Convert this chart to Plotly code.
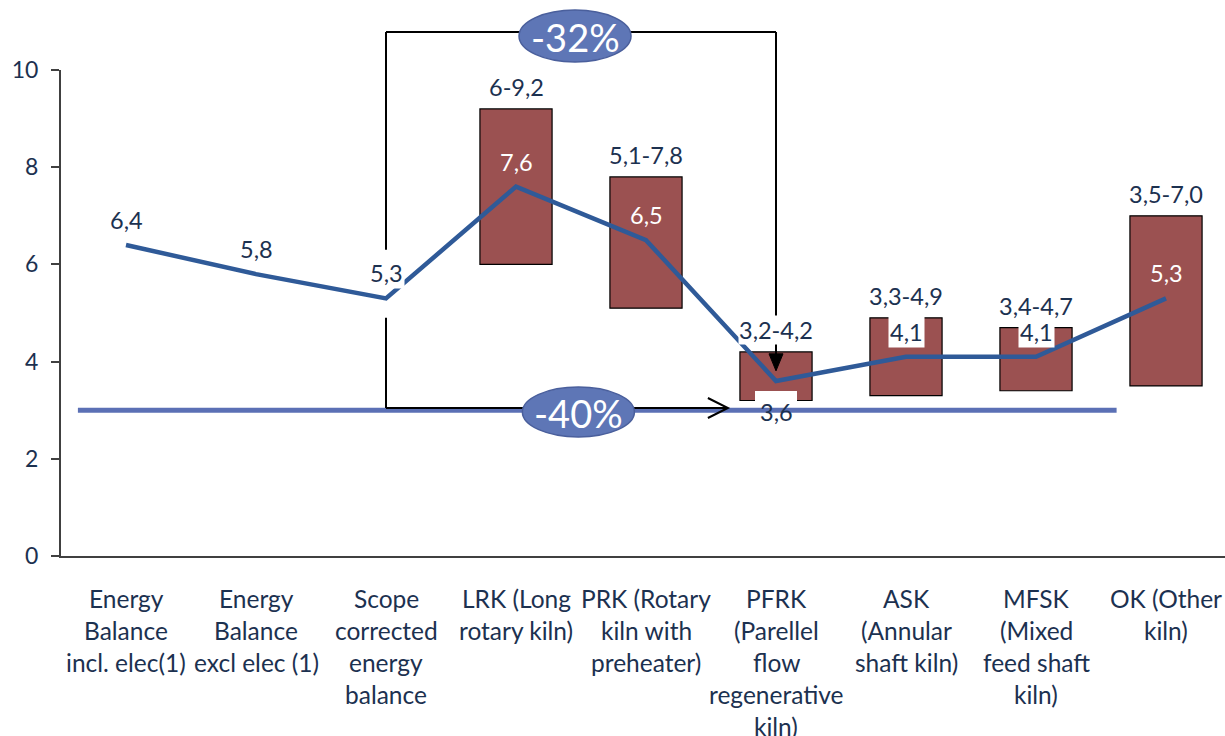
import plotly.graph_objects as go

# ---- data -------------------------------------------------------------
categories = [
    "Energy<br>Balance<br>incl. elec(1)",
    "Energy<br>Balance<br>excl elec (1)",
    "Scope<br>corrected<br>energy<br>balance",
    "LRK (Long<br>rotary kiln)",
    "PRK (Rotary<br>kiln with<br>preheater)",
    "PFRK<br>(Parellel<br>flow<br>regenerative<br>kiln)",
    "ASK<br>(Annular<br>shaft kiln)",
    "MFSK<br>(Mixed<br>feed shaft<br>kiln)",
    "OK (Other<br>kiln)",
]
energy = [6.4, 5.8, 5.3, 7.6, 6.5, 3.6, 4.1, 4.1, 5.3]

kiln_index = [3, 4, 5, 6, 7, 8]
range_low = [6.0, 5.1, 3.2, 3.3, 3.4, 3.5]
range_high = [9.2, 7.8, 4.2, 4.9, 4.7, 7.0]
range_labels = ["6-9,2", "5,1-7,8", "3,2-4,2", "3,3-4,9", "3,4-4,7", "3,5-7,0"]

target = 3.0
reduction_labels = ["-32%", "-40%"]

y_ticks = [0, 2, 4, 6, 8, 10]

# ---- style ------------------------------------------------------------
FONT = "Lato"
TXT = "#1C3150"
BAR = "#9B5151"
LINE = "#2F5A98"
TARGET = "#5B70B5"
OVAL = "#5E76B6"
Y_MIN, Y_MAX = 0, 10
LABEL_SIZE = 23.5
CAT_SIZE = 24.5


def fmt(v):
    return f"{v:.1f}".replace(".", ",")


def to_paper(v):
    return (v - Y_MIN) / (Y_MAX - Y_MIN)


fig = go.Figure()

# floating range bars
fig.add_trace(go.Bar(
    x=kiln_index,
    y=[h - l for l, h in zip(range_low, range_high)],
    base=range_low,
    width=0.555,
    marker=dict(color=BAR, line=dict(color="#000000", width=1.2)),
    hoverinfo="skip",
))

# specific energy line
fig.add_trace(go.Scatter(
    x=list(range(len(energy))),
    y=energy,
    mode="lines",
    line=dict(color=LINE, width=4.5),
    hoverinfo="skip",
))

shapes = []
annotations = []

# white backing under the PFRK value label (target line runs over it)
i_pf = 5
shapes.append(dict(
    type="rect", xref="x", yref="y", layer="above",
    xsizemode="pixel", ysizemode="pixel",
    xanchor=i_pf, yanchor=energy[i_pf],
    x0=-21, x1=21, y0=-46, y1=-10,
    fillcolor="white", line=dict(width=0),
))

# target level line
shapes.append(dict(
    type="line", xref="x", yref="y", layer="above",
    x0=-0.37, x1=7.62, y0=target, y1=target,
    line=dict(color=TARGET, width=5),
))

# brackets
i_ref, i_best = 2, 5
top_p = 1.078
blk = dict(color="#000000", width=2)
shapes.append(dict(type="line", xref="x", yref="paper", layer="above",
                   x0=i_ref, x1=i_ref, y0=top_p, y1=to_paper(6.3), line=blk))
shapes.append(dict(type="line", xref="x", yref="paper", layer="above",
                   x0=i_ref, x1=i_best, y0=top_p, y1=top_p, line=blk))
shapes.append(dict(type="line", xref="x", yref="paper", layer="above",
                   x0=i_best, x1=i_best, y0=top_p, y1=to_paper(3.95), line=blk))
# filled arrow head pointing down
shapes.append(dict(
    type="path", xref="x", yref="y", layer="above",
    xsizemode="pixel", ysizemode="pixel",
    xanchor=i_best, yanchor=3.81,
    path="M -7,17 L 7,17 L 0,0 Z",
    fillcolor="#000000", line=dict(color="#000000", width=1),
))

lower_y = 3.045
lower_tip = 4.63
shapes.append(dict(type="line", xref="x", yref="y", layer="above",
                   x0=i_ref, x1=i_ref, y0=4.9, y1=lower_y, line=blk))
shapes.append(dict(type="line", xref="x", yref="y", layer="above",
                   x0=i_ref, x1=lower_tip, y0=lower_y, y1=lower_y, line=blk))
# open arrow head pointing right
shapes.append(dict(
    type="path", xref="x", yref="y", layer="above",
    xsizemode="pixel", ysizemode="pixel",
    xanchor=lower_tip, yanchor=lower_y,
    path="M -20,10 L 0,0 L -20,-10",
    line=dict(color="#000000", width=2),
))

# reduction ovals
ovals = [
    dict(x=3.454, yref="paper", y=1.07, w=56, h=26),
    dict(x=3.48, yref="y", y=2.963, w=56, h=25),
]
for ov, lab in zip(ovals, reduction_labels):
    shapes.append(dict(
        type="circle", xref="x", yref=ov["yref"], layer="above",
        xsizemode="pixel", ysizemode="pixel",
        xanchor=ov["x"], yanchor=ov["y"],
        x0=-ov["w"], x1=ov["w"], y0=-ov["h"], y1=ov["h"],
        fillcolor=OVAL, line=dict(color="#4A5F9C", width=1.5),
    ))
    annotations.append(dict(
        x=ov["x"], y=ov["y"], xref="x", yref=ov["yref"],
        text=lab, showarrow=False,
        font=dict(family=FONT, size=38, color="white"),
        xanchor="center", yanchor="middle", yshift=-1,
    ))

# value labels on the line
inside_bar = {3, 4, 8}
for i, v in enumerate(energy):
    if i in inside_bar:
        annotations.append(dict(
            x=i, y=v, xref="x", yref="y", text=fmt(v), showarrow=False,
            font=dict(family=FONT, size=LABEL_SIZE, color="white"),
            yshift=25, yanchor="middle",
        ))
    elif i == i_pf:
        annotations.append(dict(
            x=i, y=v, xref="x", yref="y", text=fmt(v), showarrow=False,
            font=dict(family=FONT, size=LABEL_SIZE, color=TXT),
            yshift=-31, yanchor="middle",
        ))
    else:
        annotations.append(dict(
            x=i, y=v, xref="x", yref="y", text=fmt(v), showarrow=False,
            font=dict(family=FONT, size=LABEL_SIZE, color=TXT),
            bgcolor="white", borderpad=1,
            yshift=25, yanchor="middle",
        ))

# range labels above bars
for i, h, lab in zip(kiln_index, range_high, range_labels):
    annotations.append(dict(
        x=i, y=h, xref="x", yref="y", text=lab, showarrow=False,
        font=dict(family=FONT, size=LABEL_SIZE, color=TXT),
        bgcolor="white", borderpad=0,
        yshift=22, yanchor="middle",
    ))

# category labels, one line at a time
for i, cat in enumerate(categories):
    for k, part in enumerate(cat.split("<br>")):
        annotations.append(dict(
            x=i, y=0, xref="x", yref="paper", text=part, showarrow=False,
            font=dict(family=FONT, size=CAT_SIZE, color=TXT),
            xanchor="center", yanchor="middle", yshift=-(42 + 32 * k),
        ))

fig.update_layout(
    width=1225, height=736,
    margin=dict(l=61, r=0, t=70, b=180),
    paper_bgcolor="white", plot_bgcolor="white",
    showlegend=False,
    shapes=shapes,
    annotations=annotations,
    xaxis=dict(
        range=[-0.5, -0.5 + 1164 / 130],
        showticklabels=False, showgrid=False, zeroline=False,
        showline=True, linecolor="#404040", linewidth=2,
        ticks="",
    ),
    yaxis=dict(
        range=[Y_MIN, Y_MAX], tickvals=y_ticks,
        ticktext=[str(t) for t in y_ticks],
        showgrid=False, zeroline=False,
        showline=True, linecolor="#404040", linewidth=2,
        ticks="outside", ticklen=8, tickwidth=2, tickcolor="#404040",
        ticklabelstandoff=8,
        tickfont=dict(family=FONT, size=23, color=TXT),
    ),
)

fig.write_html("out.html")
